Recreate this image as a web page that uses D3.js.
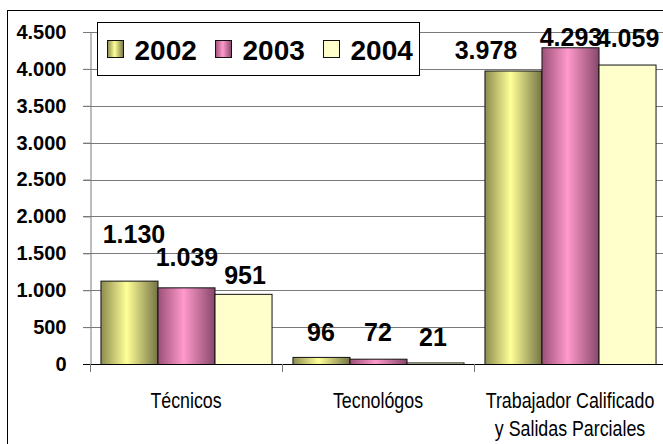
<!DOCTYPE html>
<html lang="es">
  <head>
    <meta charset="UTF-8" />
    <title>Técnicos, Tecnológos, Trabajador Calificado</title>
    <script src="https://d3js.org/d3.v7.min.js"></script>
    <style>
      body { margin: 0; background: #fff; }
      svg { display: block; }
    </style>
  </head>
  <body>
    <svg width="663" height="444"></svg>

    <script>
      // datos
      const categories = ["Técnicos", "Tecnológos", "Trabajador Calificado|y Salidas Parciales"];
      const years = ["2002", "2003", "2004"];
      const values2002 = [1130, 96, 3978];
      const values2003 = [1039, 72, 4293];
      const values2004 = [951, 21, 4059];
      const yTicks = [0, 500, 1000, 1500, 2000, 2500, 3000, 3500, 4000, 4500];

      // etiquetas movidas a mano en el original (px)
      const labelDx = [[5, 1, 2], [0, 0, -2], [-27, 1, 1]];
      const labelDy = [[-38, -21, -10], [-16, -18, -16], [-12, -1, -18]];

      const series = [values2002, values2003, values2004];

      const svg = d3.select("svg");
      const defs = svg.append("defs");

      // degradados tipo Excel
      const grads = [
        { id: "g2002", stops: [["0%", "#8c8c4e"], ["45%", "#ffff99"], ["100%", "#747444"]] },
        { id: "g2003", stops: [["0%", "#9c5078"], ["45%", "#ff99cc"], ["100%", "#87476a"]] },
        { id: "g2004", stops: [["0%", "#ffffcc"], ["100%", "#ffffcc"]] }
      ];
      grads.forEach(g => {
        const lg = defs.append("linearGradient")
          .attr("id", g.id)
          .attr("x1", "0%").attr("x2", "100%")
          .attr("y1", "0%").attr("y2", "0%");
        g.stops.forEach(s => lg.append("stop").attr("offset", s[0]).attr("stop-color", s[1]));
      });
      const fills = ["url(#g2002)", "url(#g2003)", "url(#g2004)"];

      // marco exterior
      svg.append("rect")
        .attr("x", 7.5).attr("y", 10.5)
        .attr("width", 700).attr("height", 460)
        .attr("fill", "#fff").attr("stroke", "#000");

      const plotLeft = 90, plotRight = 666, plotTop = 32, plotBottom = 364;

      const x0 = d3.scaleBand()
        .domain(categories)
        .range([plotLeft, plotRight])
        .paddingInner(0.109)
        .paddingOuter(0.0545);

      const x1 = d3.scaleBand()
        .domain(years)
        .range([0, x0.bandwidth()]);

      const y = d3.scaleLinear().domain([0, 4500]).range([plotBottom, plotTop]);

      // líneas de división
      svg.append("g")
        .selectAll("line")
        .data(yTicks.filter(d => d > 0))
        .join("line")
        .attr("x1", plotLeft - 7).attr("x2", 663)
        .attr("y1", d => Math.round(y(d)) + 0.5)
        .attr("y2", d => Math.round(y(d)) + 0.5)
        .attr("stroke", "#7a7a7a");

      // eje Y
      const yAxis = svg.append("g")
        .attr("transform", `translate(${plotLeft + 0.5},0)`)
        .call(d3.axisLeft(y).tickValues(yTicks).tickSize(7).tickPadding(17)
          .tickFormat(d => d3.format(",")(d).replace(/,/g, ".")));
      yAxis.select(".domain").attr("stroke", "#7a7a7a");
      yAxis.selectAll(".tick line").attr("stroke", "#7a7a7a");
      yAxis.selectAll("text")
        .attr("fill", "#000")
        .style("font-family", "'Liberation Sans', Arial, sans-serif")
        .style("font-weight", "bold")
        .style("font-size", "20px");

      // barras
      const groups = svg.append("g")
        .selectAll("g")
        .data(categories)
        .join("g")
        .attr("transform", d => `translate(${x0(d)},0)`);

      groups.selectAll("rect")
        .data((c, ci) => years.map((yr, si) => ({ yr, si, ci, v: series[si][ci] })))
        .join("rect")
        .attr("x", d => x1(d.yr) + 0.5)
        .attr("y", d => y(d.v) + 0.5)
        .attr("width", x1.bandwidth())
        .attr("height", d => plotBottom - y(d.v))
        .attr("fill", d => fills[d.si])
        .attr("stroke", "#111")
        .attr("stroke-width", 1);

      // eje X
      svg.append("line")
        .attr("x1", plotLeft - 7).attr("x2", 663)
        .attr("y1", plotBottom + 0.5).attr("y2", plotBottom + 0.5)
        .attr("stroke", "#000");

      const tickXs = categories.map(c => x0(c) - x0.step() * x0.paddingInner() / 2);
      svg.append("g")
        .selectAll("line")
        .data(tickXs)
        .join("line")
        .attr("x1", d => Math.round(d) + 0.5).attr("x2", d => Math.round(d) + 0.5)
        .attr("y1", plotBottom).attr("y2", plotBottom + 8)
        .attr("stroke", "#7a7a7a");

      // nombres de categoría (letra estrecha: se comprime en horizontal)
      const catText = svg.append("g")
        .selectAll("text")
        .data(categories)
        .join("text")
        .attr("transform", d => `translate(${x0(d) + x0.bandwidth() / 2},408) scale(0.81,1)`)
        .attr("text-anchor", "middle")
        .style("font-family", "'Liberation Sans', Arial, sans-serif")
        .style("font-size", "22px")
        .attr("fill", "#000");
      catText.each(function (d) {
        const lines = d.split("|");
        d3.select(this).selectAll("tspan")
          .data(lines)
          .join("tspan")
          .attr("x", 0)
          .attr("dy", (l, i) => (i === 0 ? 0 : 28))
          .text(l => l);
      });

      // etiquetas de datos
      const fmt = v => d3.format(",")(v).replace(/,/g, ".");
      groups.selectAll("text")
        .data((c, ci) => years.map((yr, si) => ({ yr, si, ci, v: series[si][ci] })))
        .join("text")
        .attr("x", d => x1(d.yr) + x1.bandwidth() / 2 + labelDx[d.ci][d.si])
        .attr("y", d => y(d.v) + labelDy[d.ci][d.si])
        .attr("text-anchor", "middle")
        .style("font-family", "'Liberation Sans', Arial, sans-serif")
        .style("font-weight", "bold")
        .style("font-size", "25px")
        .attr("fill", "#000")
        .text(d => fmt(d.v));

      // leyenda
      const legend = svg.append("g").attr("transform", "translate(97.5,22.5)");
      legend.append("rect")
        .attr("width", 322).attr("height", 53)
        .attr("fill", "#fff").attr("stroke", "#000");
      const items = legend.selectAll("g")
        .data(years)
        .join("g")
        .attr("transform", (d, i) => `translate(${10 + i * 108},0)`);
      items.append("rect")
        .attr("x", 0).attr("y", 18)
        .attr("width", 16).attr("height", 17)
        .attr("fill", (d, i) => fills[i])
        .attr("stroke", "#111");
      items.append("text")
        .attr("x", 27).attr("y", 37)
        .style("font-family", "'Liberation Sans', Arial, sans-serif")
        .style("font-weight", "bold")
        .style("font-size", "28px")
        .attr("fill", "#000")
        .text(d => d);
    </script>
  </body>
</html>
